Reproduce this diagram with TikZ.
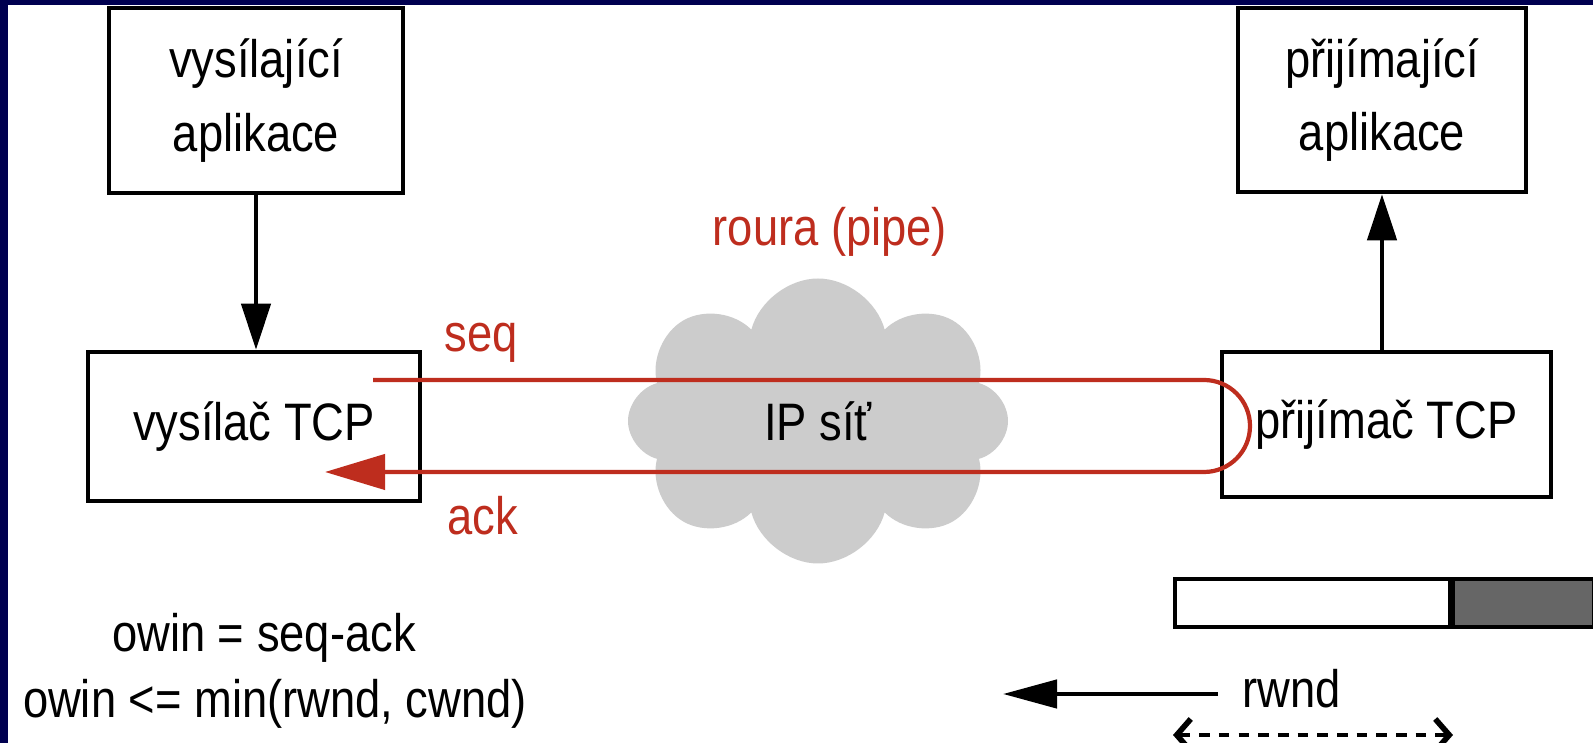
\documentclass[tikz,border=0pt]{standalone}
\usepackage{fontspec}
\setmainfont{Liberation Sans}[FakeStretch=0.86]
\usetikzlibrary{arrows.meta,shapes.symbols}

\definecolor{ramec}{RGB}{0,0,80}
\definecolor{roura}{RGB}{190,45,30}
\definecolor{mrak}{RGB}{204,204,204}
\definecolor{plny}{RGB}{102,102,102}

\tikzset{
    blok/.style={draw, line width=1.3pt, align=center, inner sep=0pt},
    sipka/.style={line width=1.3pt, -{Triangle[length=4.6mm,width=2.9mm]}},
    trubka/.style={draw=roura, line width=1.2pt},
    popis/.style={text=roura},
    hrot/.tip={Straight Barb[length=1.4mm,width=3.2mm,line width=1.6pt]},
}

\begin{document}
\begin{tikzpicture}[font=\fontsize{15}{21}\selectfont]
    % Pozadi a ramecek
    \fill[ramec] (0,0) rectangle (15.93,-7.43);
    \fill[white] (0.08,-0.05) rectangle (15.93,-7.43);
    \useasboundingbox (0,0) rectangle (15.93,-7.43);

    % Sit (mrak)
    \node[cloud, cloud puffs=8, aspect=1.35, fill=mrak, minimum width=3.8cm,
        minimum height=2.85cm, inner sep=0pt] (sit) at (8.18,-4.21) {IP síť};

    % Aplikace a TCP
    \node[blok, minimum width=2.94cm, minimum height=1.85cm] (sapp) at (2.56,-1.005)
        {vysílající\\aplikace};
    \node[blok, minimum width=3.32cm, minimum height=1.49cm] (snd) at (2.54,-4.265)
        {vysílač TCP};
    \node[blok, minimum width=2.88cm, minimum height=1.84cm] (rapp) at (13.82,-1.0)
        {přijímající\\aplikace};
    \node[blok, minimum width=3.29cm, minimum height=1.45cm] (rcv) at (13.865,-4.245)
        {přijímač TCP};

    \draw[sipka] (sapp.south) -- (sapp.south |- snd.north);
    \draw[sipka] (rapp.south |- rcv.north) -- (rapp.south);

    % Roura
    \coordinate (seqA) at (3.73,-3.80);
    \coordinate (obrat) at (12.04,-3.80);
    \coordinate (ackB) at (3.25,-4.72);
    \draw[trubka, -{Triangle[length=6mm,width=3.5mm]}] (seqA) -- (obrat)
        arc[start angle=90, end angle=-90, radius=0.46] -- (ackB);

    \node[popis] (pipe) at (8.30,-2.32) {roura (pipe)};
    \node[popis] (seq) at (4.81,-3.43) {seq};
    \node[popis] (ack) at (4.83,-5.16) {ack};

    % Okno prijemce
    \node[draw, line width=1pt, minimum width=2.75cm, minimum height=0.48cm,
        inner sep=0pt, anchor=north west] (okno) at (11.73,-5.77) {};
    \node[draw, line width=1pt, fill=plny, minimum width=1.40cm, minimum height=0.48cm,
        inner sep=0pt, anchor=west] (plne) at (okno.east) {};

    \node[anchor=base] (rwnd) at (12.92,-7.08) {rwnd};
    \coordinate (odkud) at (12.18,-6.94);
    \coordinate (kam) at (10.03,-6.94);
    \draw[line width=1.3pt, -{Triangle[length=5.4mm,width=2.8mm]}] (odkud) -- (kam);

    \coordinate (dA) at (11.73,-7.35);
    \coordinate (dB) at (14.53,-7.35);
    \draw[line width=1.2pt, dash pattern=on 3pt off 2.6pt, hrot-hrot] (dA) -- (dB);

    % Vztahy
    \node[anchor=base] (vztah1) at (2.64,-6.52) {owin = seq-ack};
    \node[anchor=base] (vztah2) at (2.75,-7.18) {owin <= min(rwnd, cwnd)};
\end{tikzpicture}
\end{document}
